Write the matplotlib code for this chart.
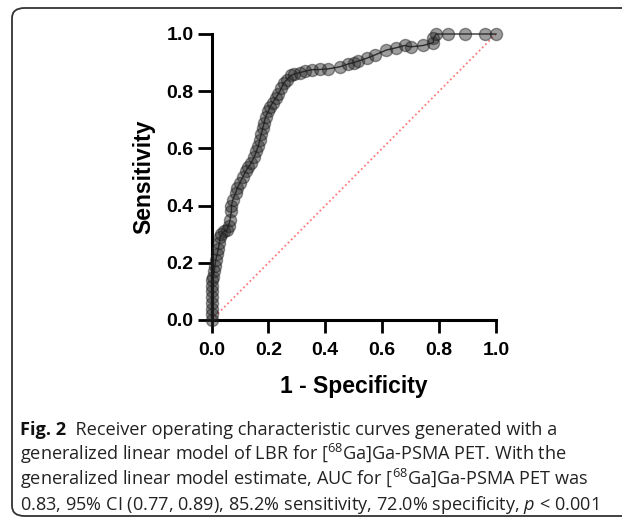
import matplotlib
matplotlib.use("Agg")
import matplotlib.pyplot as plt
from matplotlib.patches import FancyBboxPatch

# ROC data (false positive rate = 1 - specificity, true positive rate = sensitivity)
fpr = [0.0, 0.0, 0.0, 0.0, 0.0, 0.0, 0.0, 0.0, 0.005, 0.01, 0.012, 0.015, 0.02,
       0.024, 0.028, 0.03, 0.035, 0.045, 0.055, 0.06, 0.065, 0.07, 0.07, 0.075,
       0.085, 0.09, 0.10, 0.11, 0.12, 0.13, 0.14, 0.15, 0.158, 0.165, 0.17,
       0.175, 0.18, 0.185, 0.19, 0.20, 0.206, 0.215, 0.225, 0.235, 0.245,
       0.255, 0.265, 0.28, 0.29, 0.31, 0.33, 0.352, 0.38, 0.41, 0.45, 0.48,
       0.50, 0.515, 0.545, 0.575, 0.615, 0.65, 0.68, 0.70, 0.745, 0.78, 0.78,
       0.79, 0.83, 0.89, 0.96, 1.0]
tpr = [0.0, 0.02, 0.04, 0.06, 0.08, 0.10, 0.12, 0.14, 0.15, 0.17, 0.19, 0.21,
       0.23, 0.25, 0.27, 0.29, 0.30, 0.31, 0.315, 0.33, 0.35, 0.38, 0.40, 0.42,
       0.445, 0.46, 0.48, 0.50, 0.52, 0.535, 0.55, 0.57, 0.59, 0.61, 0.63,
       0.65, 0.67, 0.69, 0.71, 0.73, 0.745, 0.76, 0.775, 0.79, 0.81, 0.83,
       0.84, 0.855, 0.86, 0.865, 0.87, 0.875, 0.876, 0.878, 0.885, 0.895,
       0.90, 0.905, 0.915, 0.927, 0.944, 0.952, 0.96, 0.955, 0.96, 0.97,
       0.985, 1.0, 1.0, 1.0, 1.0, 1.0]
ref_line = [0.0, 1.0]
ticks = [0.0, 0.2, 0.4, 0.6, 0.8, 1.0]
tick_labels = ["0.0", "0.2", "0.4", "0.6", "0.8", "1.0"]

W, H = 622, 517
fig = plt.figure(figsize=(W / 100, H / 100), dpi=100)

# rounded frame
box = FancyBboxPatch((12 / W, 1 - 516 / H), 700 / W, (516 - 8) / H,
                     boxstyle="round,pad=0,rounding_size=0.02",
                     transform=fig.transFigure, fill=False,
                     edgecolor="#333333", linewidth=1.3, clip_on=False)
fig.patches.append(box)

ax = fig.add_axes([211.5 / W, 1 - 320 / H, (496 - 211.5) / W, (320 - 34) / H])
ax.plot(ref_line, ref_line, linestyle=(0, (1, 1.5)), color="#ff7b7b",
        linewidth=1.3, zorder=1)
ax.plot(fpr, tpr, color="black", linewidth=1.0, alpha=0.8, zorder=2,
        clip_on=False)
ax.plot(fpr, tpr, linestyle="none", marker="o", markersize=8.7,
        markerfacecolor=(0.15, 0.15, 0.15, 0.45),
        markeredgecolor=(0.1, 0.1, 0.1, 0.45), markeredgewidth=1.0,
        zorder=3, clip_on=False)

ax.set_xlim(0, 1)
ax.set_ylim(0, 1)
for s in ["top", "right"]:
    ax.spines[s].set_visible(False)
for s in ["left", "bottom"]:
    ax.spines[s].set_linewidth(2.2)
    ax.spines[s].set_color("black")

ax.set_xticks(ticks)
ax.set_xticklabels(tick_labels)
ax.set_yticks(ticks)
ax.set_yticklabels(tick_labels)
ax.tick_params(axis="x", direction="out", length=9, width=2.0, pad=7,
               labelsize=14)
ax.tick_params(axis="y", direction="out", length=10, width=2.0, pad=3,
               labelsize=14)
for lab in ax.get_xticklabels() + ax.get_yticklabels():
    lab.set_fontfamily("Liberation Sans")
    lab.set_fontweight("bold")

ax.set_xlabel("1 - Specificity", fontsize=16.5, fontweight="bold",
              fontfamily="Liberation Sans", labelpad=11)
ax.set_ylabel("Sensitivity", fontsize=16.5, fontweight="bold",
              fontfamily="Liberation Sans", labelpad=8)

# caption
plt.rcParams["mathtext.fontset"] = "custom"
plt.rcParams["mathtext.rm"] = "Open Sans"
plt.rcParams["mathtext.it"] = "Open Sans:italic"
cap_fs = 13.1
fam = ["Open Sans", "DejaVu Sans"]
x0 = 20 / W
t1 = fig.text(x0, 1 - 435 / H, "Fig. 2", fontsize=cap_fs, fontweight="bold",
              family=fam, va="baseline", color="#111111")
ax.annotate("  Receiver operating characteristic curves generated with a",
            xy=(1, 0), xycoords=t1, va="bottom", ha="left",
            fontsize=cap_fs, family=fam, color="#222222")
lines = [
    r"generalized linear model of LBR for [$\mathregular{^{68}}$Ga]Ga-PSMA PET. With the",
    r"generalized linear model estimate, AUC for [$\mathregular{^{68}}$Ga]Ga-PSMA PET was",
    r"0.83, 95% CI (0.77, 0.89), 85.2% sensitivity, 72.0% specificity, $\it{p}$ < 0.001",
]
for i, s in enumerate(lines):
    fig.text(x0, 1 - (460 + 25 * i) / H, s, fontsize=cap_fs, family=fam,
             va="baseline", color="#222222")

fig.savefig("out.png", dpi=100)
